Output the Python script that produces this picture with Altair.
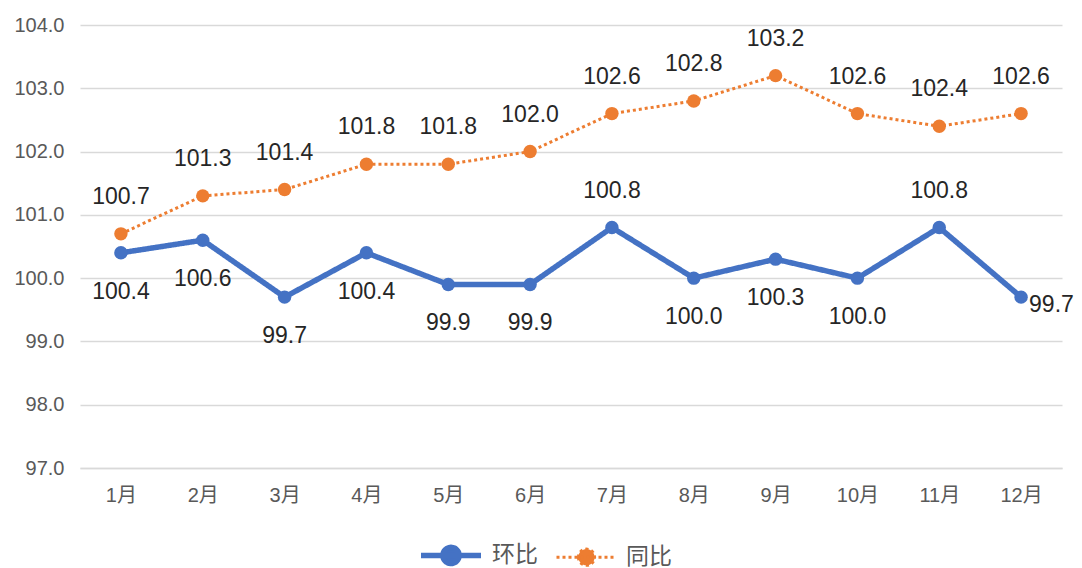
import altair as alt
import pandas as pd

months = ["1月", "2月", "3月", "4月", "5月", "6月", "7月", "8月", "9月", "10月", "11月", "12月"]
huanbi = [100.4, 100.6, 99.7, 100.4, 99.9, 99.9, 100.8, 100.0, 100.3, 100.0, 100.8, 99.7]
tongbi = [100.7, 101.3, 101.4, 101.8, 101.8, 102.0, 102.6, 102.8, 103.2, 102.6, 102.4, 102.6]
series_names = ["环比", "同比"]

# label placement (style), separate from the data
hb_label_place = {"7月": "above", "11月": "above", "12月": "right"}

rows = []
for m, v in zip(months, huanbi):
    rows.append({"month": m, "series": "环比", "value": v, "place": hb_label_place.get(m, "below")})
for m, v in zip(months, tongbi):
    rows.append({"month": m, "series": "同比", "value": v, "place": "above"})
df = pd.DataFrame(rows)

FONT = "Liberation Sans, Noto Sans CJK SC"
CJK_FONT = "Noto Sans CJK SC"
BLUE = "#4472C4"
ORANGE = "#ED7D31"

color_scale = alt.Scale(domain=series_names, range=[BLUE, ORANGE])
width_scale = alt.Scale(domain=series_names, range=[5.5, 3])
dash_scale = alt.Scale(domain=series_names, range=[[1, 0], [3, 3]])

legend = alt.Legend(
    title=None,
    orient="none",
    legendX=338,
    legendY=497,
    direction="horizontal",
    labelFontSize=23,
    labelFont=CJK_FONT,
    labelColor="#595959",
    symbolType="M-1,0H1M-0.27,0A0.27,0.27 0 1,0 0.27,0A0.27,0.27 0 1,0 -0.27,0Z",
    symbolSize=3600,
    symbolOpacity=1,
    columnPadding=12,
    labelOffset=8,
)

x_enc = alt.X(
    "month:O",
    sort=months,
    scale=alt.Scale(type="point", padding=0.5),
    axis=alt.Axis(
        title=None,
        labelAngle=0,
        labelFontSize=20,
        labelFont=FONT,
        labelColor="#595959",
        labelPadding=17,
        ticks=False,
        domain=True,
        domainColor="#d9d9d9",
        domainWidth=1.5,
        grid=False,
    ),
)
y_enc = alt.Y(
    "value:Q",
    scale=alt.Scale(domain=[97, 104], nice=False, zero=False),
    axis=alt.Axis(
        title=None,
        values=[97, 98, 99, 100, 101, 102, 103, 104],
        format=".1f",
        labelFontSize=20,
        labelFont=FONT,
        labelColor="#595959",
        labelPadding=16,
        ticks=False,
        domain=False,
        grid=True,
        gridColor="#d9d9d9",
        gridWidth=1.5,
    ),
)

base = alt.Chart(df)

lines = base.mark_line().encode(
    x=x_enc,
    y=y_enc,
    color=alt.Color("series:N", scale=color_scale, legend=legend, sort=series_names),
    strokeWidth=alt.StrokeWidth("series:N", scale=width_scale, legend=legend, sort=series_names),
    strokeDash=alt.StrokeDash("series:N", scale=dash_scale, legend=legend, sort=series_names),
)

points = base.mark_circle(size=180, opacity=1).encode(
    x=alt.X("month:O", sort=months),
    y="value:Q",
    color=alt.Color("series:N", scale=color_scale, legend=legend, sort=series_names),
)

text_common = dict(fontSize=23, font=FONT, color="#262626", baseline="middle")

labels_above = base.transform_filter("datum.place === 'above'").mark_text(dy=-37, **text_common).encode(
    x=alt.X("month:O", sort=months), y="value:Q", text=alt.Text("value:Q", format=".1f")
)
labels_below = base.transform_filter("datum.place === 'below'").mark_text(dy=39, **text_common).encode(
    x=alt.X("month:O", sort=months), y="value:Q", text=alt.Text("value:Q", format=".1f")
)
labels_right = base.transform_filter("datum.place === 'right'").mark_text(
    dx=8, dy=8, align="left", **text_common
).encode(x=alt.X("month:O", sort=months), y="value:Q", text=alt.Text("value:Q", format=".1f"))

chart = (
    alt.layer(lines, points, labels_above, labels_below, labels_right)
    .properties(
        width=982,
        height=443,
        autosize=alt.AutoSizeParams(type="none"),
        padding={"left": 72, "top": 17, "right": 12, "bottom": 100},
        background="white",
    )
    .configure_view(stroke=None)
)

chart.save("out.html", embed_options={"renderer": "svg", "actions": False})
